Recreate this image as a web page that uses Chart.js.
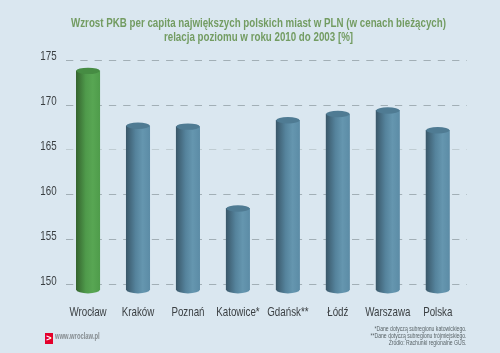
<!DOCTYPE html>
<html>
<head>
<meta charset="utf-8">
<script src="https://cdn.jsdelivr.net/npm/chart.js@4/dist/chart.umd.min.js"></script>
<style>
  html, body { margin: 0; padding: 0; background: #dae7f0; }
  #wrap { position: relative; width: 500px; height: 353px; overflow: hidden; }
  canvas { display: block; }
  .note { position: absolute; font-family: "Liberation Sans", sans-serif; color: #5a6468; white-space: nowrap; }
  #notes { right: 33px; top: 325px; font-size: 7px; line-height: 7.2px; text-align: right; transform: scaleX(0.73); transform-origin: right top; }
  #site { left: 55px; top: 331px; font-size: 9px; font-weight: bold; color: #858c90; transform: scaleX(0.65); transform-origin: left top; }
  #logo { position: absolute; left: 45px; top: 333px; width: 8px; height: 11px; background: #e4002b; color: #fff;
    font: bold 9px/11px "Liberation Sans", sans-serif; text-align: center; }
</style>
</head>
<body>
<div id="wrap">
  <canvas id="chart" width="500" height="353"></canvas>
  <div id="logo">&gt;</div>
  <div id="site" class="note">www.wroclaw.pl</div>
  <div id="notes" class="note">*Dane dotyczą subregionu katowickiego.<br>**Dane dotyczą subregionu trójmiejskiego.<br>Źródło: Rachunki regionalne GUS.</div>
</div>
<script>
const categories = ["Wrocław", "Kraków", "Poznań", "Katowice*", "Gdańsk**", "Łódź", "Warszawa", "Polska"];
const values = [173.8, 167.7, 167.6, 158.5, 168.3, 169.0, 169.4, 167.2];
const titleLines = [
  "Wzrost PKB per capita największych polskich miast w PLN (w cenach bieżących)",
  "relacja poziomu w roku 2010 do 2003 [%]",
];

const GREEN = ["#35652f", "#4f9a4b", "#58a653", "#4f9c4b"];
const BLUE = ["#3a586a", "#55839c", "#6596af", "#5c8ca6"];
const BAR_W = 23.4;
const TEXT_FONT = "'Liberation Sans', sans-serif";

const canvas = document.getElementById("chart");
const context = canvas.getContext("2d");

// brak fontu waskiego, wiec zwezamy kazdy tekst na canvasie
const plainFillText = context.fillText;
context.fillText = function (text, x, y) {
  this.save();
  this.translate(x, y);
  this.scale(0.75, 1);
  plainFillText.call(this, text, 0, 0);
  this.restore();
};

function makeGradient(ctx, x, i) {
  const c = i === 0 ? GREEN : BLUE;
  const g = ctx.createLinearGradient(x - BAR_W / 2, 0, x + BAR_W / 2, 0);
  g.addColorStop(0, c[0]);
  g.addColorStop(0.4, c[1]);
  g.addColorStop(0.7, c[2]);
  g.addColorStop(1, c[3]);
  return g;
}

// walec: gorna i dolna elipsa dorysowane na slupkach
const cylinderCaps = {
  id: "cylinderCaps",
  afterDatasetsDraw(chart) {
    const ctx = chart.ctx;
    const bottom = chart.chartArea.bottom;
    chart.getDatasetMeta(0).data.forEach((bar, i) => {
      ctx.save();
      ctx.fillStyle = makeGradient(ctx, bar.x, i);
      ctx.beginPath();
      ctx.ellipse(bar.x, bottom, BAR_W / 2, 3.5, 0, 0, Math.PI);
      ctx.fill();
      ctx.fillStyle = i === 0 ? "#468c43" : "#4f7b93";
      ctx.beginPath();
      ctx.ellipse(bar.x, bar.y, BAR_W / 2, 3.2, 0, 0, Math.PI * 2);
      ctx.fill();
      ctx.restore();
    });
  },
};

new Chart(context, {
  type: "bar",
  data: {
    datasets: [
      {
        data: values.map((v, i) => ({ x: i, y: v })),
        barThickness: BAR_W,
        backgroundColor: (c) => {
          const x = c.chart.scales.x.getPixelForValue(c.dataIndex);
          return Number.isFinite(x) ? makeGradient(c.chart.ctx, x, c.dataIndex) : BLUE[1];
        },
      },
    ],
  },
  plugins: [cylinderCaps],
  options: {
    responsive: false,
    animation: false,
    layout: { padding: { left: 50, right: 33, top: 16.5, bottom: 25.5 } },
    plugins: {
      legend: { display: false },
      tooltip: { enabled: false },
      title: {
        display: true,
        text: titleLines,
        color: "#739c62",
        font: { family: TEXT_FONT, size: 13, weight: "bold", lineHeight: 1.08 },
        padding: { top: 0, bottom: 15.5 },
      },
    },
    scales: {
      x: {
        type: "linear",
        offset: false,
        min: -0.435,
        max: 7.585,
        grid: { display: false },
        border: { display: false },
        ticks: {
          stepSize: 1,
          includeBounds: false,
          autoSkip: false,
          maxRotation: 0,
          padding: 7,
          color: "#3a3f42",
          font: { family: TEXT_FONT, size: 13 },
          callback: (v) => categories[v],
        },
      },
      y: {
        min: 149.44,
        max: 175,
        afterFit(scale) {
          scale.width = 16.3;
        },
        grid: {
          drawTicks: false,
          lineWidth: 1,
          color: (c) => (c.tick && c.tick.value === 165 ? "#bfccd2" : "#a2afb6"),
        },
        border: { display: false, dash: [7.3, 7] },
        ticks: {
          stepSize: 5,
          includeBounds: false,
          mirror: true,
          padding: -26,
          color: "#3a3f42",
          font: { family: TEXT_FONT, size: 13, lineHeight: 0.5 },
          // pusta druga linia podnosi etykiete nad linie siatki
          callback: (v) => [String(v), ""],
        },
      },
    },
  },
});
</script>
</body>
</html>
